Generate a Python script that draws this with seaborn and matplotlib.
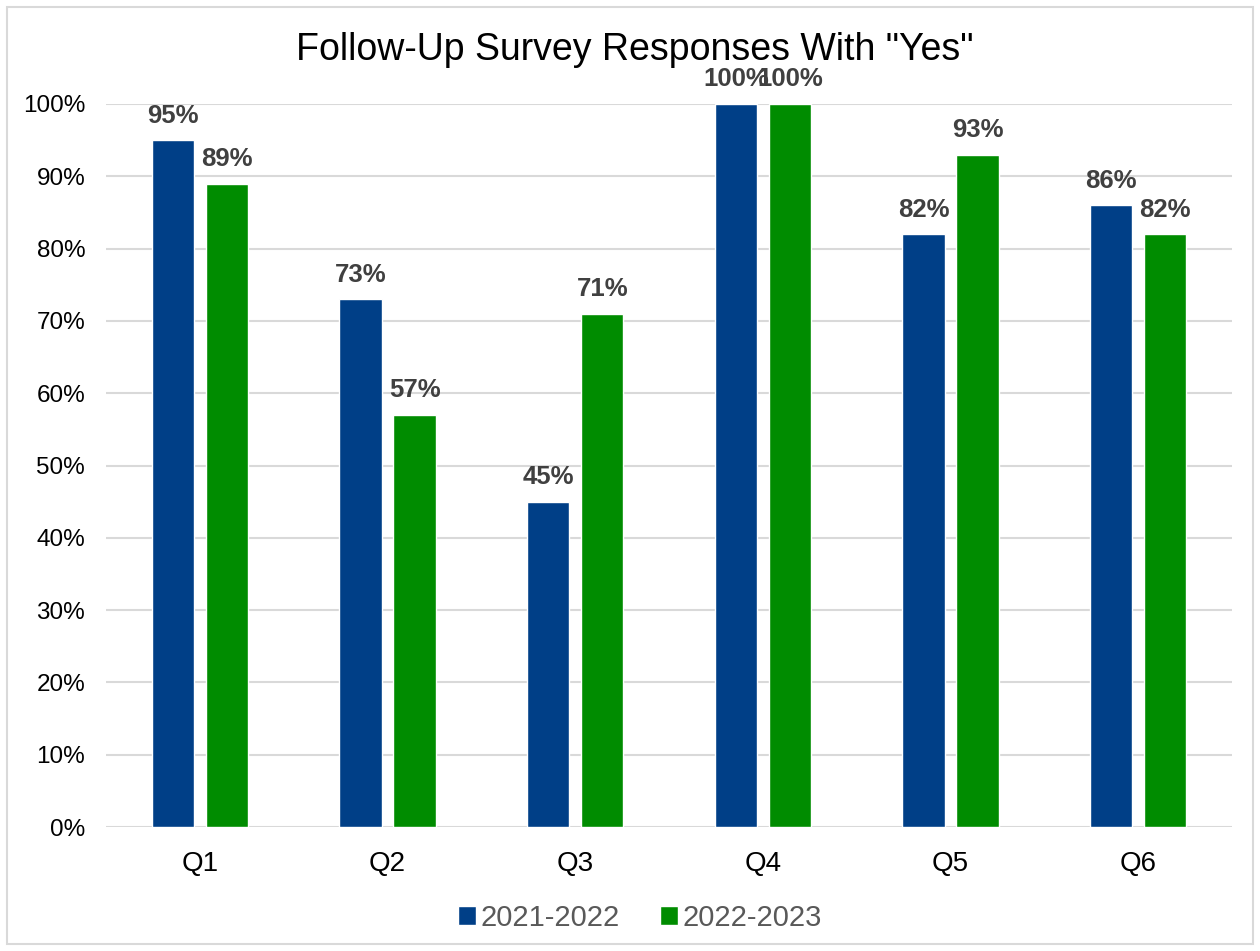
import matplotlib
matplotlib.use("Agg")
import matplotlib.pyplot as plt
import seaborn as sns
import pandas as pd
from matplotlib.patches import Rectangle
from matplotlib.ticker import PercentFormatter

questions = ["Q1", "Q2", "Q3", "Q4", "Q5", "Q6"]
years = ["2021-2022", "2022-2023"]
yes_2021_2022 = [95, 73, 45, 100, 82, 86]
yes_2022_2023 = [89, 57, 71, 100, 93, 82]

df = pd.DataFrame({
    "Question": questions * 2,
    "Year": [years[0]] * len(questions) + [years[1]] * len(questions),
    "Yes": yes_2021_2022 + yes_2022_2023,
})

sns.set_theme(style="white")
plt.rcParams["font.family"] = ["Liberation Sans", "DejaVu Sans"]

palette = {years[0]: "#003F87", years[1]: "#008C00"}
grid_color = "#D9D9D9"

W, H = 1260, 951
fig = plt.figure(figsize=(W / 100, H / 100), dpi=100)
ax = fig.add_axes([106 / W, 1 - 827 / H, 1126 / W, 723 / H])

sns.barplot(data=df, x="Question", y="Yes", hue="Year", palette=palette,
            width=0.576, gap=0.222, ax=ax, saturation=1, legend=True)

ax.set_ylim(0, 100)
ax.set_xlim(-0.5, len(questions) - 0.5)
ax.set_yticks(range(0, 101, 10))
ax.yaxis.set_major_formatter(PercentFormatter(decimals=0))
ax.grid(axis="y", color=grid_color, linewidth=1.5)
ax.set_axisbelow(True)
for s in ax.spines.values():
    s.set_visible(False)
ax.tick_params(axis="y", length=0, labelsize=17.5, pad=15, colors="black")
ax.tick_params(axis="x", length=0, labelsize=20, pad=17, colors="black")
ax.set_xlabel("")
ax.set_ylabel("")

for container in ax.containers:
    labels = [f"{v:.0f}%" for v in container.datavalues]
    ax.bar_label(container, labels=labels, padding=9, fontsize=18.5,
                 fontweight="bold", color="#404040")

fig.text(635 / W, 1 - 50 / H, 'Follow-Up Survey Responses With "Yes"',
         fontsize=27, color="black", ha="center", va="center")

handles, lbls = ax.get_legend_handles_labels()
ax.get_legend().remove()
fig.legend(handles, lbls, loc="center", bbox_to_anchor=(640 / W, 1 - 918 / H),
           ncol=2, frameon=False, fontsize=21, handlelength=0.6,
           handleheight=0.6, handletextpad=0.15, columnspacing=1.4,
           labelcolor="#595959")

fig.patches.append(Rectangle((7 / W, 7 / H), 1246 / W, 937 / H,
                             transform=fig.transFigure, fill=False,
                             edgecolor=grid_color, linewidth=1.5))

fig.savefig("out.png", dpi=100)
